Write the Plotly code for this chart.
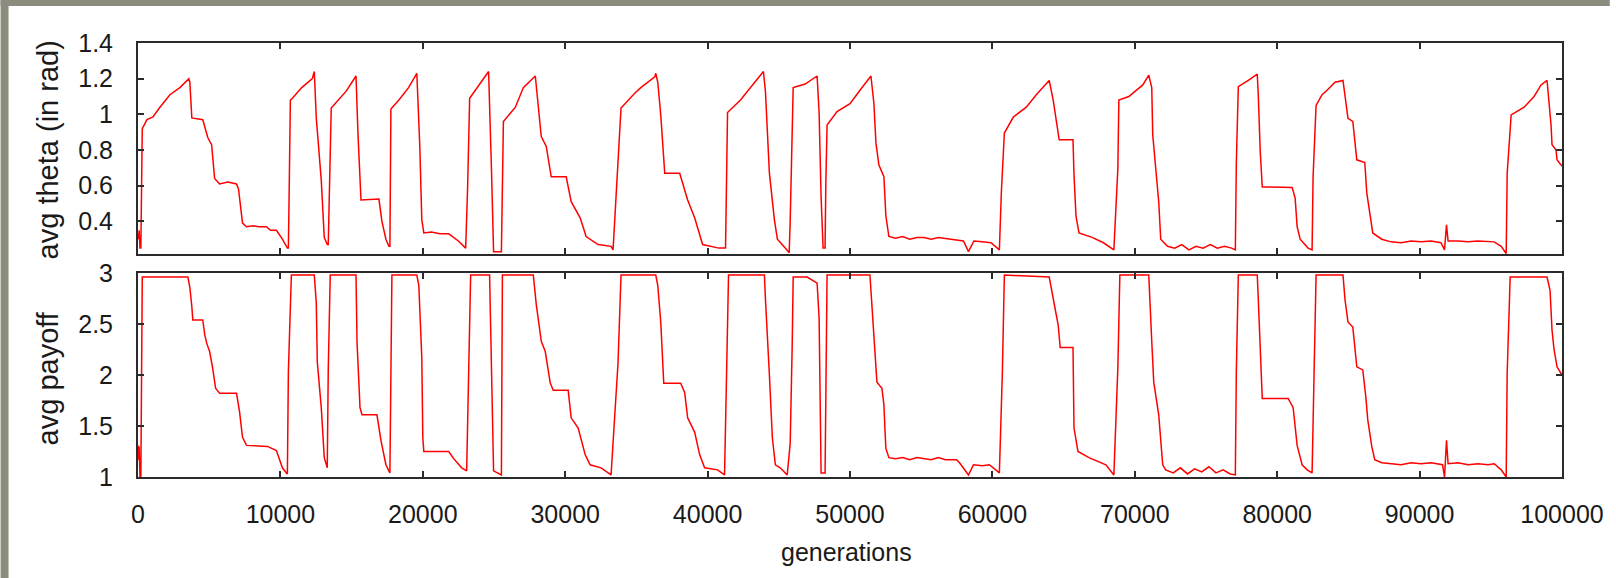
import plotly.graph_objects as go

# ---------------- data ----------------
theta_gen = [0, 40, 80, 140, 200, 260, 300, 630, 1050, 1540, 2240, 2940, 3500, 3570, 3640, 3780,
             4550, 4900, 5170, 5380, 5730, 6300, 6920, 7060, 7340, 7620, 8100, 8500, 9020, 9300,
             9720, 10140, 10490, 10560, 10630, 10700, 10840, 11500, 12240, 12380, 12520, 12870,
             13080, 13290, 13360, 13430, 13570, 14620, 15310, 15450, 15660, 16920, 17130, 17410,
             17620, 17690, 17760, 18320, 19000, 19510, 19580, 19790, 19930, 20070, 20600, 21200,
             21820, 22500, 23010, 23150, 23290, 24000, 24480, 24620, 24830, 24970, 25520, 25660,
             26500, 27060, 27900, 28110, 28320, 28670, 29020, 30070, 30420, 31050, 31470, 32310,
             33220, 33360, 33710, 33920, 34900, 35310, 36290, 36360, 36500, 36710, 36990, 38040,
             38600, 39090, 39650, 40300, 40800, 41260, 41400, 42310, 43640, 43920, 44060, 44340,
             44690, 44900, 45450, 45730, 45800, 45940, 46010, 46850, 47690, 47830, 47970, 48110,
             48250, 48300, 48390, 49090, 50000, 50700, 51470, 51680, 51820, 52030, 52380, 52520,
             52730, 53200, 53700, 54200, 54700, 55200, 55700, 56200, 56700, 57340, 57970, 58320,
             58700, 59300, 59900, 60490, 60630, 60840, 61470, 62380, 63080, 63990, 64270, 64690,
             65660, 65730, 65870, 66080, 67000, 67800, 68530, 68810, 68880, 69580, 70560, 70980,
             71190, 71260, 71470, 71680, 71820, 72300, 72800, 73300, 73800, 74300, 74800, 75300,
             75800, 76300, 76800, 77060, 77130, 77270, 77970, 78600, 78670, 78810, 78950, 81050,
             81260, 81400, 81610, 82170, 82450, 82520, 82730, 83150, 83500, 84060, 84620, 84760,
             84970, 85310, 85590, 86150, 86290, 86500, 86710, 87340, 88000, 88700, 89400, 90100,
             90800, 91500, 91750, 91890, 92000, 92700, 93400, 94100, 94800, 95240, 95730, 96080,
             96150, 96430, 97340, 98040, 98530, 98950, 99230, 99300, 99580, 99650, 99930, 100000]
theta_val = [0.33, 0.30, 0.35, 0.25, 0.25, 0.60, 0.92, 0.97, 0.985, 1.04, 1.11, 1.15, 1.19, 1.20, 1.18, 0.98,
             0.97, 0.87, 0.83, 0.64, 0.61, 0.62, 0.61, 0.58, 0.39, 0.37, 0.375, 0.37, 0.37, 0.35,
             0.35, 0.30, 0.25, 0.25, 0.65, 1.08, 1.09, 1.15, 1.20, 1.24, 0.98, 0.63,
             0.31, 0.27, 0.27, 0.60, 1.035, 1.13, 1.215, 0.885, 0.52, 0.525, 0.40, 0.30,
             0.26, 0.26, 1.03, 1.08, 1.15, 1.22, 1.23, 0.82, 0.41, 0.335, 0.34, 0.33,
             0.33, 0.29, 0.25, 0.60, 1.09, 1.17, 1.225, 1.24, 0.67, 0.23, 0.23, 0.96,
             1.04, 1.15, 1.215, 1.06, 0.875, 0.82, 0.65, 0.65, 0.51, 0.42, 0.315, 0.27,
             0.26, 0.24, 0.716, 1.035, 1.12, 1.15, 1.21, 1.23, 1.18, 0.997, 0.67, 0.67,
             0.52, 0.42, 0.27, 0.26, 0.25, 0.25, 1.01, 1.08, 1.21, 1.24, 1.13, 0.67,
             0.41, 0.30, 0.25, 0.224, 0.40, 0.84, 1.15, 1.17, 1.215, 1.01, 0.537, 0.25,
             0.25, 0.60, 0.94, 1.015, 1.06, 1.135, 1.215, 1.06, 0.84, 0.716, 0.65, 0.43,
             0.315, 0.305, 0.315, 0.30, 0.31, 0.31, 0.30, 0.31, 0.305, 0.30, 0.29, 0.23,
             0.29, 0.285, 0.28, 0.24, 0.565, 0.895, 0.985, 1.04, 1.11, 1.19, 1.08, 0.857,
             0.857, 0.66, 0.43, 0.335, 0.31, 0.28, 0.24, 0.695, 1.08, 1.10, 1.165, 1.22,
             1.15, 0.885, 0.69, 0.51, 0.30, 0.26, 0.25, 0.27, 0.24, 0.26, 0.25, 0.27,
             0.25, 0.26, 0.25, 0.24, 0.728, 1.155, 1.19, 1.225, 1.11, 0.79, 0.593, 0.59,
             0.53, 0.37, 0.30, 0.25, 0.24, 0.65, 1.05, 1.11, 1.135, 1.18, 1.19, 1.11,
             0.978, 0.96, 0.745, 0.73, 0.56, 0.447, 0.335, 0.30, 0.285, 0.28, 0.29, 0.285,
             0.29, 0.28, 0.24, 0.38, 0.29, 0.29, 0.285, 0.29, 0.285, 0.285, 0.26, 0.22,
             0.67, 0.997, 1.04, 1.10, 1.165, 1.19, 0.94, 0.83, 0.80, 0.745, 0.716, 0.71]

payoff_gen = [0, 40, 80, 140, 200, 260, 300, 3500, 3640, 3780, 3850, 4550, 4690, 4830, 5030, 5240,
              5450, 5730, 6920, 7130, 7340, 7620, 9090, 9720, 9930, 10140, 10420, 10490, 10560, 10770,
              12380, 12520, 12590, 12870, 13080, 13290, 13360, 13500, 15310, 15380, 15590, 15730,
              16780, 17060, 17410, 17690, 17760, 17830, 19580, 19720, 19930, 20000, 20070, 21820,
              22170, 22730, 23080, 23220, 23360, 24690, 24830, 24970, 25520, 25590, 27760, 27970,
              28320, 28600, 28950, 29160, 30210, 30420, 30910, 31400, 31750, 32520, 33220, 33710,
              33920, 36360, 36500, 36710, 36920, 38110, 38390, 38600, 39090, 39440, 39790, 40700,
              41190, 41330, 41470, 43990, 44060, 44340, 44550, 44760, 45100, 45590, 45800, 45940,
              46010, 46990, 47690, 47830, 47900, 47970, 48250, 48300, 48390, 51400, 51540, 51750,
              51890, 52240, 52380, 52450, 52520, 52730, 53200, 53700, 54200, 54700, 55200, 55700,
              56200, 56700, 57480, 57690, 58320, 58670, 59300, 59790, 60490, 60700, 60840, 63990,
              64270, 64620, 64760, 65660, 65730, 66010, 66780, 67970, 68530, 68810, 68950, 70980,
              71190, 71330, 71680, 71960, 72170, 72700, 73200, 73700, 74200, 74700, 75200, 75700,
              76200, 76700, 77060, 77130, 77270, 78600, 78670, 78810, 78950, 80770, 81120, 81400,
              81750, 82100, 82450, 82590, 82730, 84620, 84760, 84970, 85310, 85590, 86010, 86220,
              86360, 86640, 86850, 87340, 88000, 88700, 89400, 90100, 90800, 91610, 91750, 91890,
              92000, 92700, 93400, 94100, 94800, 95240, 95730, 96080, 96150, 96360, 98950, 99160,
              99300, 99440, 99650, 99930, 100000]
payoff_val = [1.31, 1.17, 1.30, 1.0, 1.0, 2.0, 2.96, 2.96, 2.86, 2.67, 2.54, 2.54, 2.39, 2.31, 2.23, 2.07,
              1.87, 1.82, 1.82, 1.64, 1.39, 1.31, 1.30, 1.26, 1.18, 1.09, 1.04, 1.03, 2.03, 2.98,
              2.98, 2.71, 2.13, 1.68, 1.19, 1.09, 2.05, 2.98, 2.98, 2.33, 1.68, 1.61,
              1.61, 1.36, 1.12, 1.04, 2.0, 2.98, 2.98, 2.88, 2.17, 1.39, 1.25, 1.25,
              1.18, 1.09, 1.06, 2.12, 2.98, 2.98, 1.87, 1.06, 1.02, 2.98, 2.98, 2.69,
              2.33, 2.23, 1.92, 1.85, 1.85, 1.58, 1.48, 1.22, 1.12, 1.09, 1.02, 2.12,
              2.98, 2.98, 2.88, 2.52, 1.92, 1.92, 1.83, 1.58, 1.44, 1.22, 1.09, 1.07,
              1.02, 2.03, 2.98, 2.98, 2.75, 2.0, 1.38, 1.12, 1.09, 1.02, 1.33, 2.29,
              2.96, 2.96, 2.9, 2.56, 1.64, 1.04, 1.04, 2.02, 2.98, 2.98, 2.69, 2.29,
              1.93, 1.87, 1.71, 1.48, 1.28, 1.19, 1.18, 1.19, 1.17, 1.19, 1.18, 1.17,
              1.19, 1.17, 1.17, 1.14, 1.02, 1.12, 1.11, 1.12, 1.04, 2.03, 2.98, 2.96,
              2.75, 2.49, 2.27, 2.27, 1.48, 1.25, 1.19, 1.12, 1.02, 2.07, 2.98, 2.98,
              2.33, 1.93, 1.61, 1.12, 1.07, 1.04, 1.09, 1.03, 1.08, 1.05, 1.10, 1.04,
              1.07, 1.03, 1.02, 2.03, 2.98, 2.98, 2.75, 2.17, 1.77, 1.77, 1.68, 1.31,
              1.12, 1.07, 1.04, 2.02, 2.98, 2.98, 2.74, 2.52, 2.47, 2.08, 2.05, 1.79,
              1.56, 1.30, 1.17, 1.14, 1.13, 1.12, 1.14, 1.13, 1.14, 1.12, 1.0, 1.36,
              1.13, 1.14, 1.12, 1.13, 1.12, 1.13, 1.07, 1.0, 2.02, 2.96, 2.96, 2.83,
              2.44, 2.25, 2.08, 2.02, 2.0]

x_ticks = [0, 10000, 20000, 30000, 40000, 50000, 60000, 70000, 80000, 90000, 100000]
theta_ticks = [0.4, 0.6, 0.8, 1, 1.2, 1.4]
theta_tick_text = ["0.4", "0.6", "0.8", "1", "1.2", "1.4"]
payoff_ticks = [1, 1.5, 2, 2.5, 3]
payoff_tick_text = ["1", "1.5", "2", "2.5", "3"]

# ---------------- figure ----------------
W, H = 1616, 578
L, R, T, B = 138, 48, 43, 101
plot_h = H - T - B  # 434

def fy(py):
    return (H - B - py) / plot_h

def fx(px):
    return (px - L) / (W - L - R)

FONT = "Liberation Sans, Arial, sans-serif"
TXT = "#1a1a1a"
AX = "#2b2b2b"
RED = "#ff0000"

fig = go.Figure()
fig.add_trace(go.Scatter(x=theta_gen, y=theta_val, mode="lines", xaxis="x", yaxis="y",
                         line=dict(color=RED, width=1.5), showlegend=False))
fig.add_trace(go.Scatter(x=payoff_gen, y=payoff_val, mode="lines", xaxis="x2", yaxis="y2",
                         line=dict(color=RED, width=1.5), showlegend=False))

common_axis = dict(showgrid=False, zeroline=False, showline=True, linecolor=AX, linewidth=2,
                   mirror="allticks", ticks="inside", ticklen=6, tickwidth=1.5, tickcolor=AX,
                   tickfont=dict(family=FONT, size=25, color=TXT))

fig.update_layout(
    width=W, height=H, autosize=False,
    margin=dict(l=L, r=R, t=T, b=B, pad=0),
    paper_bgcolor="white", plot_bgcolor="white",
    xaxis=dict(common_axis, domain=[0, 1], anchor="y", range=[0, 100000],
               tickvals=x_ticks, showticklabels=False),
    xaxis2=dict(common_axis, domain=[0, 1], anchor="y2", range=[0, 100000],
                tickvals=x_ticks, ticktext=[str(v) for v in x_ticks], ticklabelstandoff=14),
    yaxis=dict(common_axis, domain=[fy(254), 1], anchor="x", range=[0.217, 1.4],
               tickvals=theta_ticks, ticktext=theta_tick_text, ticklabelstandoff=18),
    yaxis2=dict(common_axis, domain=[0, fy(273)], anchor="x2", range=[1, 3],
                tickvals=payoff_ticks, ticktext=payoff_tick_text, ticklabelstandoff=18),
)

# gray textured border strips (top and left)
fig.add_shape(type="rect", xref="paper", yref="paper", x0=fx(0), x1=fx(W), y0=fy(6), y1=fy(0),
              fillcolor="#8b8c7d", line_width=0, layer="below")
fig.add_shape(type="rect", xref="paper", yref="paper", x0=fx(0), x1=fx(8), y0=fy(H), y1=fy(0),
              fillcolor="#8b8c7d", line_width=0, layer="below")

# axis titles
fig.add_annotation(text="avg theta (in rad)", xref="paper", yref="paper", x=fx(48), y=fy(150),
                   textangle=-90, showarrow=False, xanchor="center", yanchor="middle",
                   font=dict(family=FONT, size=29, color=TXT))
fig.add_annotation(text="avg payoff", xref="paper", yref="paper", x=fx(48), y=fy(378),
                   textangle=-90, showarrow=False, xanchor="center", yanchor="middle",
                   font=dict(family=FONT, size=29, color=TXT))
fig.add_annotation(text="generations", xref="paper", yref="paper", x=fx(849), y=fy(552),
                   showarrow=False, xanchor="center", yanchor="middle",
                   font=dict(family=FONT, size=25, color=TXT))

fig.write_html("out.html", config={"displayModeBar": False},
               post_script="document.body.style.margin='0';document.body.style.overflow='hidden';")
